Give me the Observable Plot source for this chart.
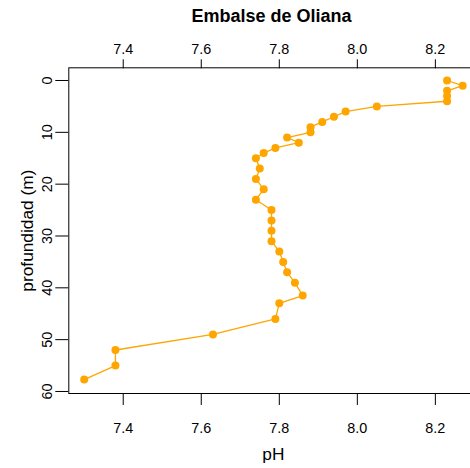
<!DOCTYPE html>
<html>
<head>
<meta charset="utf-8">
<script src="https://cdn.jsdelivr.net/npm/d3@7"></script>
<script src="https://cdn.jsdelivr.net/npm/@observablehq/plot@0.6"></script>
<style>
  html, body { margin: 0; padding: 0; background: #fff; overflow: hidden; }
  #wrap { position: relative; width: 470px; height: 468px; overflow: hidden; }
  #title { position: absolute; top: 6px; left: 67px; width: 409px; text-align: center;
    font: bold 18px "Liberation Sans", Arial, sans-serif; color: #000; line-height: 20px; }
  #chart svg { overflow: hidden; }
</style>
</head>
<body>
<div id="wrap">
  <div id="chart"></div>
  <div id="title">Embalse de Oliana</div>
</div>
<script>
const titleText = "Embalse de Oliana";
const xLabel = "pH";
const yLabel = "profundidad (m)";
const depth = [0, 1, 2, 3, 4, 5, 6, 7, 8, 9, 10, 11, 12, 13, 14, 15, 17, 19, 21, 23, 25, 27, 29, 31, 33, 35, 37, 39, 41.5, 43, 46, 49, 52, 55, 57.7];
const ph = [8.23, 8.27, 8.23, 8.23, 8.23, 8.05, 7.97, 7.94, 7.91, 7.88, 7.88, 7.82, 7.85, 7.79, 7.76, 7.74, 7.75, 7.74, 7.76, 7.74, 7.78, 7.78, 7.78, 7.78, 7.80, 7.81, 7.82, 7.84, 7.86, 7.80, 7.79, 7.63, 7.38, 7.38, 7.30];
const xTicks = [7.4, 7.6, 7.8, 8.0, 8.2];
const yTicks = [0, 10, 20, 30, 40, 50, 60];

const data = depth.map((d, i) => ({depth: d, ph: ph[i]}));
const orange = "#FFA500";
const font = '"Liberation Sans", Arial, sans-serif';

const chart = Plot.plot({
  width: 470,
  height: 468,
  marginLeft: 68.3,
  marginRight: -7.4,
  marginTop: 67.3,
  marginBottom: 75,
  style: {fontFamily: font, fontSize: "14.4px", color: "#000", background: "#fff", overflow: "hidden"},
  x: {domain: [7.2605, 8.309]},
  y: {domain: [-2.45, 60.39], reverse: true},
  marks: [
    Plot.frame({stroke: "#000", strokeWidth: 1}),
    Plot.axisX({anchor: "top", ticks: xTicks, tickFormat: d => d.toFixed(1), tickSize: 9, tickPadding: 5, label: null, fontSize: 14.4}),
    Plot.axisX({anchor: "bottom", ticks: xTicks, tickFormat: d => d.toFixed(1), tickSize: 12, tickPadding: 17, label: null, fontSize: 14.4}),
    Plot.axisY({anchor: "left", ticks: yTicks, tickFormat: d => String(d), tickSize: 13, tickPadding: 4, tickRotate: -90, textAnchor: "middle", lineAnchor: "bottom", label: null, fontSize: 14.4}),
    Plot.text([xLabel], {frameAnchor: "bottom", dy: 60.5, lineAnchor: "middle", textAnchor: "middle", fontSize: 17.3, fill: "#000"}),
    Plot.text([yLabel], {frameAnchor: "left", dx: -41.6, rotate: -90, lineAnchor: "middle", textAnchor: "middle", fontSize: 17.3, fill: "#000"}),
    Plot.line(data, {x: "ph", y: "depth", stroke: orange, strokeWidth: 1.3}),
    Plot.dot(data, {x: "ph", y: "depth", r: 4, fill: orange, stroke: "none"})
  ]
});
document.getElementById("chart").appendChild(chart);
</script>
</body>
</html>
